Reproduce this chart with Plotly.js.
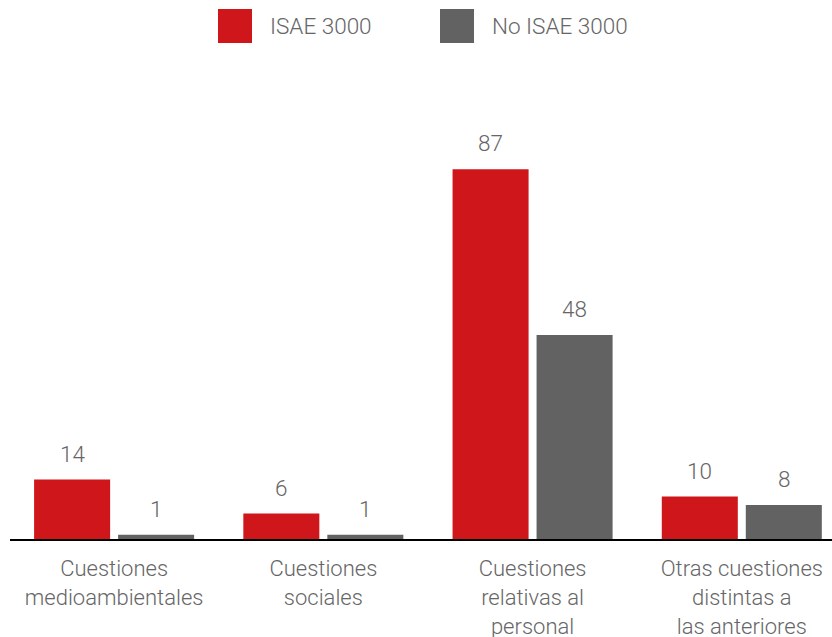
<!DOCTYPE html>
<html>
<head>
<meta charset="utf-8">
<script src="https://cdn.plot.ly/plotly-3.0.1.min.js"></script>
<style>
  html, body { margin: 0; padding: 0; background: #fff; }
  #chart { width: 832px; height: 637px; }
</style>
</head>
<body>
<div id="chart"></div>
<script>
// Categories and series
const categories = [
  "Cuestiones<br>medioambientales",
  "Cuestiones<br>sociales",
  "Cuestiones<br>relativas al<br>personal",
  "Otras cuestiones<br>distintas a<br>las anteriores"
];
const seriesNames = ["ISAE 3000", "No ISAE 3000"];
const isaeValues = [14, 6, 87, 10];
const noIsaeValues = [1, 1, 48, 8];

const RED = "#cf161a";
const GREY = "#626262";
const TEXT = "#666666";
const FONT = "Roboto, 'Open Sans', sans-serif";
const FS = 22.5;

const traces = [
  { type: "bar", name: seriesNames[0], x: categories, y: isaeValues,
    marker: { color: RED }, hoverinfo: "none" },
  { type: "bar", name: seriesNames[1], x: categories, y: noIsaeValues,
    marker: { color: GREY }, hoverinfo: "none" }
];

// Value labels above each bar
const annotations = [];
[isaeValues, noIsaeValues].forEach((vals, s) => {
  vals.forEach((v, i) => {
    annotations.push({
      x: categories[i], y: v, xref: "x", yref: "y",
      text: String(v), showarrow: false,
      xshift: s === 0 ? -42 : 42, yshift: 26, yanchor: "middle",
      font: { family: FONT, size: FS, color: TEXT, weight: 300 }
    });
  });
});

// Legend drawn as swatches + labels across the top
const px = v => (v - 10) / 822;
const py = v => (539 - v) / 459;
const shapes = [
  { type: "rect", xref: "paper", yref: "paper", x0: px(218), x1: px(252), y0: py(43), y1: py(9),
    fillcolor: RED, line: { width: 0 } },
  { type: "rect", xref: "paper", yref: "paper", x0: px(440), x1: px(474), y0: py(43), y1: py(9),
    fillcolor: GREY, line: { width: 0 } }
];
annotations.push(
  { xref: "paper", yref: "paper", x: px(268), y: py(26), xanchor: "left", yanchor: "middle",
    text: seriesNames[0], showarrow: false, font: { family: FONT, size: FS, color: TEXT, weight: 300 } },
  { xref: "paper", yref: "paper", x: px(490), y: py(26), xanchor: "left", yanchor: "middle",
    text: seriesNames[1], showarrow: false, font: { family: FONT, size: FS, color: TEXT, weight: 300 } }
);

const layout = {
  width: 832, height: 637,
  margin: { l: 10, r: 0, t: 80, b: 98, pad: 0 },
  paper_bgcolor: "#ffffff", plot_bgcolor: "#ffffff",
  showlegend: false,
  barmode: "group", bargap: 0.197, bargroupgap: 0.095,
  font: { family: FONT, color: TEXT, size: FS, weight: 300 },
  xaxis: {
    type: "category", range: [-0.4976, 3.4311],
    showline: true, linecolor: "#000000", linewidth: 2,
    showgrid: false, zeroline: false, ticks: "",
    ticklabelstandoff: 9,
    tickfont: { family: FONT, size: 22, color: TEXT, weight: 300 },
    fixedrange: true
  },
  yaxis: {
    range: [0, 108], visible: false, showgrid: false, zeroline: false, fixedrange: true
  },
  shapes: shapes,
  annotations: annotations
};

Plotly.newPlot("chart", traces, layout, { displayModeBar: false, staticPlot: true });
</script>
</body>
</html>
